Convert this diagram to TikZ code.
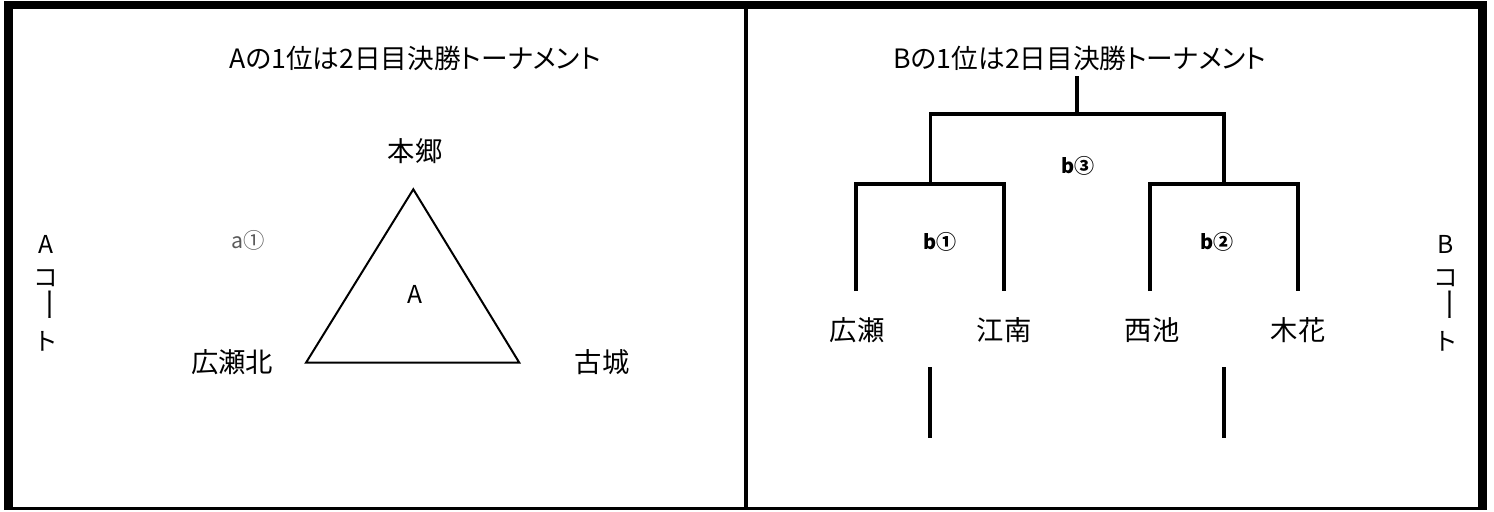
\documentclass[tikz,border=0pt]{standalone}
\usepackage{fontspec}
\setmainfont{Noto Sans CJK JP}
\newfontfamily\jpp{Noto Sans CJK JP}[RawFeature=+palt]
\begin{document}
\begin{tikzpicture}[x=0.75pt,y=-0.75pt,
  title/.style={font=\jpp\fontsize{20}{24}\selectfont, inner sep=0pt},
  team/.style={font=\fontsize{20.5}{24}\selectfont, inner sep=0pt},
  court/.style={font=\fontsize{18.5}{22}\selectfont, inner sep=0pt},
  small/.style={font=\fontsize{16}{19}\selectfont, inner sep=0pt},
  match/.style={font=\bfseries\fontsize{15}{18}\selectfont, inner sep=0pt},
  bline/.style={line width=2.4pt},
  tline/.style={line width=1.5pt, line join=miter}]
\useasboundingbox (0,0) rectangle (1494,511);
% frame
\fill (4.3,1) rectangle (13.3,510.3);
\fill (4.3,1) rectangle (1487,9);
\fill (1478,1) rectangle (1487,510.3);
\fill (4.3,506.7) rectangle (1487,510.3);
\fill (744,1) rectangle (748,510.3);

% ---- A court ----
\node[title] (titleA) at (415,58) {Aの1位は2日目決勝トーナメント};
\node[team] (hongo) at (415,151) {本郷};
\node[team] (hirosekita) at (232,362) {広瀬北};
\node[team] (furushiro) at (602,362) {古城};
\node[small, text=black!65] (a1) at (248,240) {a①};
\coordinate (tA) at (413.3,189.3);
\coordinate (tL) at (306,362.7);
\coordinate (tR) at (519.3,362.7);
\draw[tline] (tA) -- (tR) -- (tL) -- cycle;
\node[court] (gA) at (415,294) {A};
\node[court] (cA1) at (46,244) {A};
\node[court] (cA2) at (46,278) {コ};
\node[court, rotate=-90, xscale=1.4] (cA3) at (46,305) {ー};
\node[court] (cA4) at (46,341) {ト};

% ---- B court ----
\node[title] (titleB) at (1080,58) {Bの1位は2日目決勝トーナメント};
\node[court] (cB1) at (1446,244) {B};
\node[court] (cB2) at (1446,278) {コ};
\node[court, rotate=-90, xscale=1.4] (cB3) at (1446,305) {ー};
\node[court] (cB4) at (1446,341) {ト};

\node[team] (hirose) at (857,330) {広瀬};
\node[team] (konan) at (1004,330) {江南};
\node[team] (nishiike) at (1152,330) {西池};
\node[team] (kibana) at (1298,330) {木花};

\node[match] (b3) at (1078,166) {b③};
\node[match] (b1) at (940,242) {b①};
\node[match] (b2) at (1217,242) {b②};

\coordinate (top) at (1077,76);
\coordinate (topj) at (1077,114);
\coordinate (l2) at (930.5,114);
\coordinate (r2) at (1224,114);
\coordinate (l2b) at (930.5,184);
\coordinate (r2b) at (1224,184);
\coordinate (la) at (856,184);
\coordinate (lb) at (1004,184);
\coordinate (ra) at (1150,184);
\coordinate (rb) at (1298,184);
\coordinate (laE) at (856,291);
\coordinate (lbE) at (1004,291);
\coordinate (raE) at (1150,291);
\coordinate (rbE) at (1298,291);
\draw[bline] (top) -- (topj);
\draw[bline] (l2b) -- (l2) -- (r2) -- (r2b);
\draw[bline] (laE) -- (la) -- (lb) -- (lbE);
\draw[bline] (raE) -- (ra) -- (rb) -- (rbE);
\coordinate (lo1) at (930,367);
\coordinate (lo1e) at (930,438);
\coordinate (lo2) at (1224,367);
\coordinate (lo2e) at (1224,438);
\draw[bline] (lo1) -- (lo1e);
\draw[bline] (lo2) -- (lo2e);
\end{tikzpicture}
\end{document}
